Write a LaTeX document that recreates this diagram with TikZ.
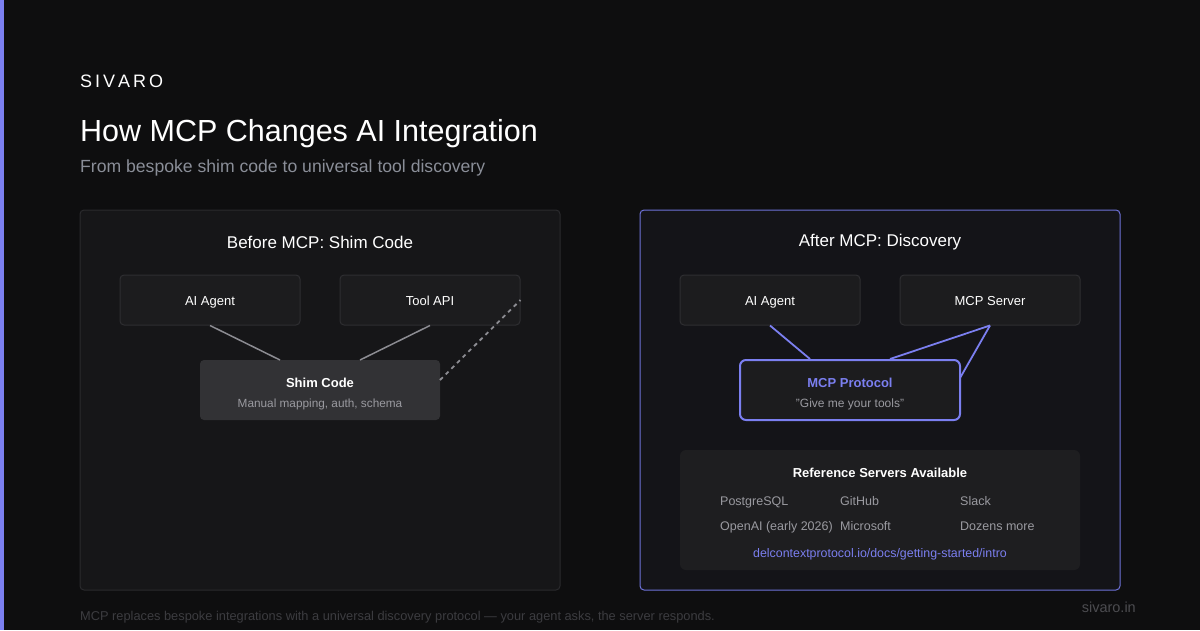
\documentclass[tikz,border=0pt]{standalone}
\usepackage{fontspec}
\setmainfont{Liberation Sans}
\definecolor{bg}{HTML}{0E0E0F}
\definecolor{accent}{HTML}{7B7FF0}
\definecolor{panelL}{HTML}{161618}
\definecolor{panelR}{HTML}{141418}
\definecolor{panelB}{HTML}{2A2A2D}
\definecolor{panelRB}{HTML}{6E72D8}
\definecolor{boxF}{HTML}{1C1C1E}
\definecolor{boxB}{HTML}{2E2E31}
\definecolor{shimF}{HTML}{323235}
\definecolor{subG}{HTML}{8A8E98}
\definecolor{itemG}{HTML}{9A9AA0}
\definecolor{lineG}{HTML}{8C8C92}
\definecolor{refF}{HTML}{1E1E20}
\definecolor{footG}{HTML}{3C3C40}
\definecolor{siteG}{HTML}{4C4C50}
\tikzset{
  panel/.style={rounded corners=4pt, line width=1pt},
  card/.style={draw=boxB, fill=boxF, rounded corners=4pt, line width=1pt, minimum width=180pt, minimum height=50pt, text=white, font=\fontsize{13}{15}\selectfont, text height=11pt, text depth=1pt},
  conn/.style={draw=lineG, line width=1.5pt},
  mconn/.style={draw=accent, line width=1.8pt},
  item/.style={text=itemG, font=\fontsize{12.5}{14}\selectfont, anchor=base west, inner sep=0},
}
\begin{document}
\begin{tikzpicture}[x=1pt,y=-1pt]
\useasboundingbox (0,0) rectangle (1200,630);
\fill[bg] (0,0) rectangle (1200,630);
\fill[accent] (0,0) rectangle (4,630);
% header
\node[anchor=base west, text=white, inner sep=0, font=\fontsize{18}{20}\selectfont] (brand) at (80,87) {S\kern3pt I\kern3pt V\kern3pt A\kern3pt R\kern3pt O};
\node[anchor=base west, text=white, inner sep=0, font=\fontsize{30.5}{33}\selectfont] (title) at (80,141) {How MCP Changes AI Integration};
\node[anchor=base west, text=subG, inner sep=0, font=\fontsize{17.6}{20}\selectfont] (sub) at (80,172) {From bespoke shim code to universal tool discovery};
% panels
\draw[panel, draw=panelB, fill=panelL] (80,210) rectangle (560,590);
\draw[panel, draw=panelRB, fill=panelR] (640,210) rectangle (1120,590);
\node[text=white, font=\fontsize{17}{20}\selectfont] (ltitle) at (320,242) {Before MCP: Shim Code};
\node[text=white, font=\fontsize{17}{20}\selectfont] (rtitle) at (880,242) {After MCP: Discovery};
% left diagram
\node[card] (lagent) at (210,300) {AI Agent};
\node[card] (tool) at (430,300) {Tool API};
\node[fill=shimF, rounded corners=4pt, minimum width=240pt, minimum height=60pt] (shim) at (320,390) {};
\node[text=white, font=\bfseries\fontsize{13}{15}\selectfont] (shimt) at (320,383) {Shim Code};
\node[text=itemG, font=\fontsize{11.8}{13}\selectfont] (shims) at (320,404) {Manual mapping, auth, schema};
\coordinate (sa) at (280,360);
\coordinate (sb) at (360,360);
\coordinate (sc) at (440,380);
\draw[conn] (lagent.south) -- (sa);
\draw[conn] (tool.south) -- (sb);
\draw[conn, line width=1.8pt, dash pattern=on 4pt off 4pt] (sc) -- (tool.east);
% right diagram
\node[card] (ragent) at (770,300) {AI Agent};
\node[card] (server) at (990,300) {MCP Server};
\node[draw=accent, fill=boxF, line width=2pt, rounded corners=6pt, minimum width=220pt, minimum height=60pt] (proto) at (850,390) {};
\node[text=accent, font=\bfseries\fontsize{13}{15}\selectfont] (protot) at (850,383) {MCP Protocol};
\node[text=itemG, font=\fontsize{12}{13}\selectfont] (protos) at (850,404) {"Give me your tools"};
\coordinate (pa) at (810,359);
\coordinate (pb) at (890,359);
\coordinate (pc) at (960,378);
\draw[mconn] (ragent.south) -- (pa);
\draw[mconn] (server.south) -- (pb);
\draw[mconn] (server.south) -- (pc);
% reference servers
\node[fill=refF, rounded corners=6pt, minimum width=400pt, minimum height=120pt] (ref) at (880,510) {};
\node[text=white, font=\bfseries\fontsize{13}{15}\selectfont] (reft) at (880,473) {Reference Servers Available};
\node[item] (i1) at (720,505) {PostgreSQL};
\node[item] (i2) at (840,505) {GitHub};
\node[item] (i3) at (960,505) {Slack};
\node[item] (i4) at (720,530) {OpenAI (early 2026)};
\node[item] (i5) at (840,530) {Microsoft};
\node[item] (i6) at (960,530) {Dozens more};
\node[text=accent, font=\fontsize{12.4}{14}\selectfont] (link) at (880,554) {delcontextprotocol.io/docs/getting-started/intro};
% footer
\node[anchor=base west, inner sep=0, text=footG, font=\fontsize{12.8}{14}\selectfont] (foot) at (80,620) {MCP replaces bespoke integrations with a universal discovery protocol — your agent asks, the server responds.};
\node[anchor=base east, inner sep=0, text=siteG, font=\fontsize{14.5}{16}\selectfont] (site) at (1136,612) {sivaro.in};
\end{tikzpicture}
\end{document}
